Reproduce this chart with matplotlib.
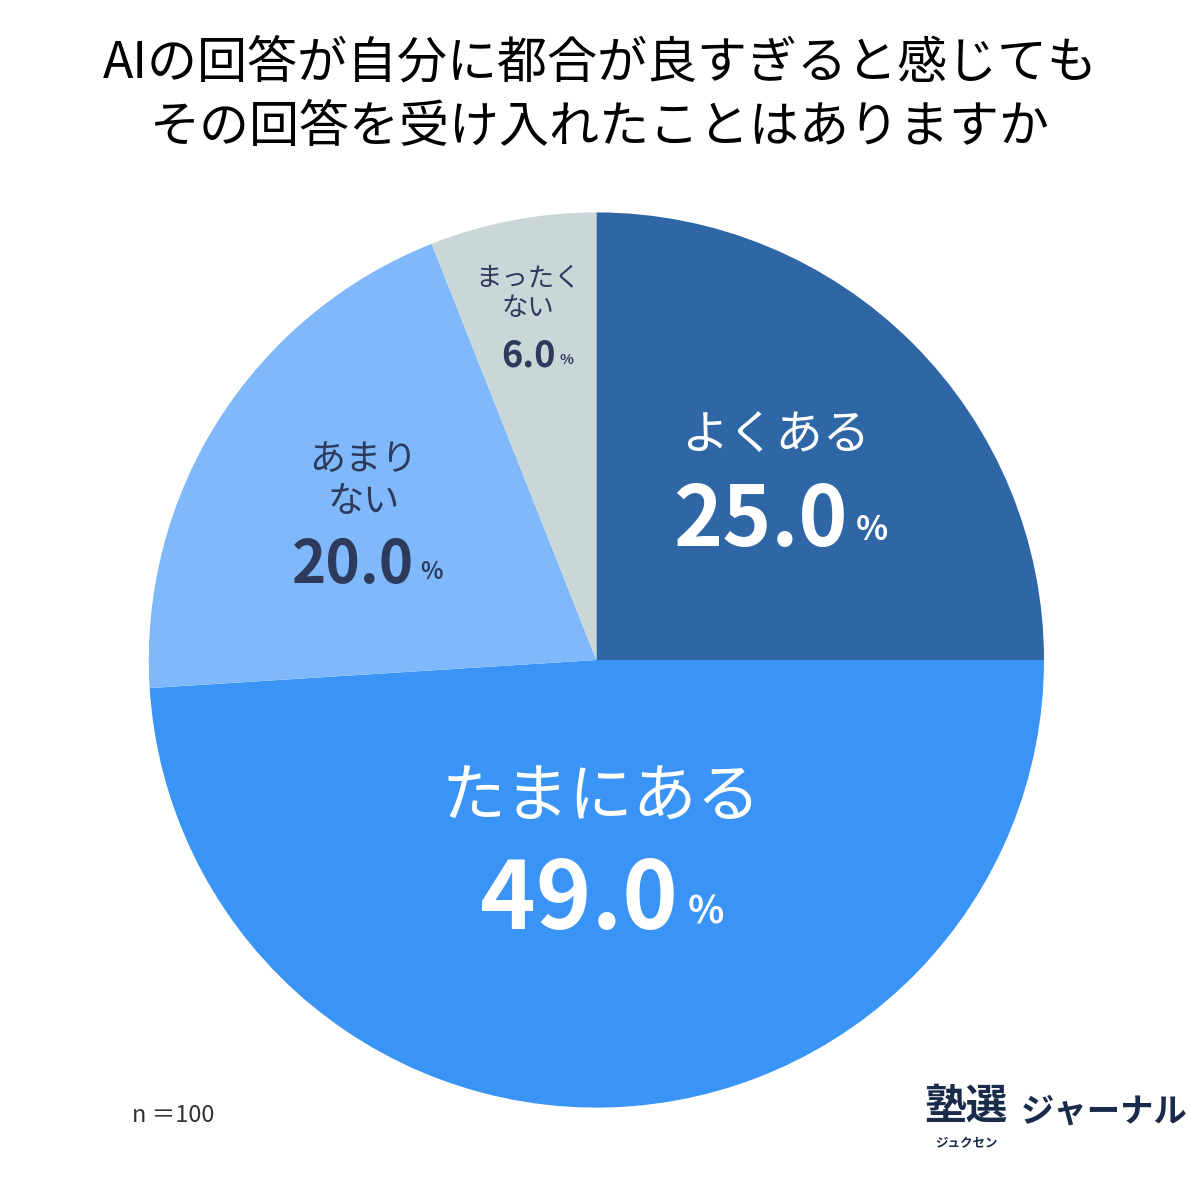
import matplotlib.pyplot as plt

plt.rcParams['font.family'] = ['Noto Sans CJK JP', 'DejaVu Sans']

labels = ['よくある', 'たまにある', 'あまり\nない', 'まったく\nない']
values = [25.0, 49.0, 20.0, 6.0]
colors = ['#2e66a6', '#3a94f6', '#80b9fb', '#cad6d8']
title = 'AIの回答が自分に都合が良すぎると感じても\nその回答を受け入れたことはありますか'

fig = plt.figure(figsize=(12, 12), dpi=100)
fig.text(0.5, 0.92, title, ha='center', va='center', fontsize=36, linespacing=1.3)

ax = fig.add_axes([0.497 - 0.373, 0.45 - 0.373, 0.746, 0.746])
ax.pie(values, colors=colors, startangle=90, counterclock=False, radius=1.0,
       wedgeprops=dict(linewidth=0))
ax.set_xlim(-1, 1)
ax.set_ylim(-1, 1)
ax.set_aspect('equal')
ax.axis('off')

# label positions (in pie radius units)
specs = [
    ((0.40, 0.50), 34, (0.47, 0.31), 60, 'white'),
    ((0.01, -0.31), 46, (0.08, -0.54), 68, 'white'),
    ((-0.52, 0.40), 26, (-0.47, 0.21), 42, '#2d3a5c'),
    ((-0.154, 0.82), 19, (-0.13, 0.68), 26, '#2d3a5c'),
]
for lab, v, (nxy, nfs, pxy, pfs, c) in zip(labels, values, specs):
    ax.text(*nxy, lab, ha='center', va='center', fontsize=nfs, color=c,
            linespacing=1.2)
    ax.text(pxy[0] + 0.09 * pfs / 60, pxy[1], f'{v:.1f}', ha='right', va='center',
            fontsize=pfs, color=c, fontweight='bold')
    ax.text(pxy[0] + 0.11 * pfs / 60, pxy[1] - 0.02 * pfs / 60, '%', ha='left',
            va='center', fontsize=pfs * 0.4, color=c, fontweight='bold')

fig.text(0.11, 0.07, 'n ＝100', ha='left', va='center', fontsize=17, color='#333333')
fig.text(0.805, 0.078, '塾選', ha='center', va='center', fontsize=30,
         fontweight='bold', color='#1a2a4a')
fig.text(0.805, 0.047, 'ジュクセン', ha='center', va='center', fontsize=9,
         fontweight='bold', color='#1a2a4a')
fig.text(0.92, 0.073, 'ジャーナル', ha='center', va='center', fontsize=24,
         fontweight='bold', color='#1a2a4a')

fig.savefig('out.png', dpi=100, facecolor='white')
